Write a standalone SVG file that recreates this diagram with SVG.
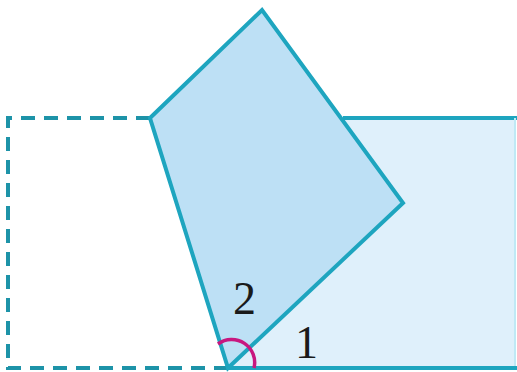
<svg xmlns="http://www.w3.org/2000/svg" width="517" height="372" viewBox="0 0 517 372">
<style>
.solid{stroke:#1ea5bf;stroke-width:4;stroke-linejoin:miter;}
.dash{fill:none;stroke:#1d93a8;stroke-width:4;stroke-dasharray:14 9;}
.lbl{font-family:"Liberation Serif",serif;font-size:46px;fill:#1a1a1a;}
</style>
<rect width="517" height="372" fill="#ffffff"/>
<g id="unfolded-part">
<path class="dash" d="M228,368 L8,368 L8,118 L150,118"/>
</g>
<g id="rectangle">
<path d="M228,368 L403,203 L343,118 L516,118 L516,368 Z" fill="#dff0fb"/>
<path class="solid" fill="none" d="M343,118 L517,118"/>
<path d="M515,118 L515,368" stroke="#bfe9f5" stroke-width="2" fill="none"/>
<path class="solid" fill="none" d="M228,368 L517,368"/>
</g>
<g id="folded-part">
<path class="solid" fill="#bde0f5" d="M150,118 L262,10 L403,203 L228,368 Z"/>
</g>
<g id="angle-mark">
<path d="M218,344 A23,23 0 0 1 254,368" fill="none" stroke="#c8177f" stroke-width="3.5"/>
</g>
<g id="labels">
<text class="lbl" x="233" y="314">2</text>
<text class="lbl" x="295" y="358">1</text>
</g>
</svg>
